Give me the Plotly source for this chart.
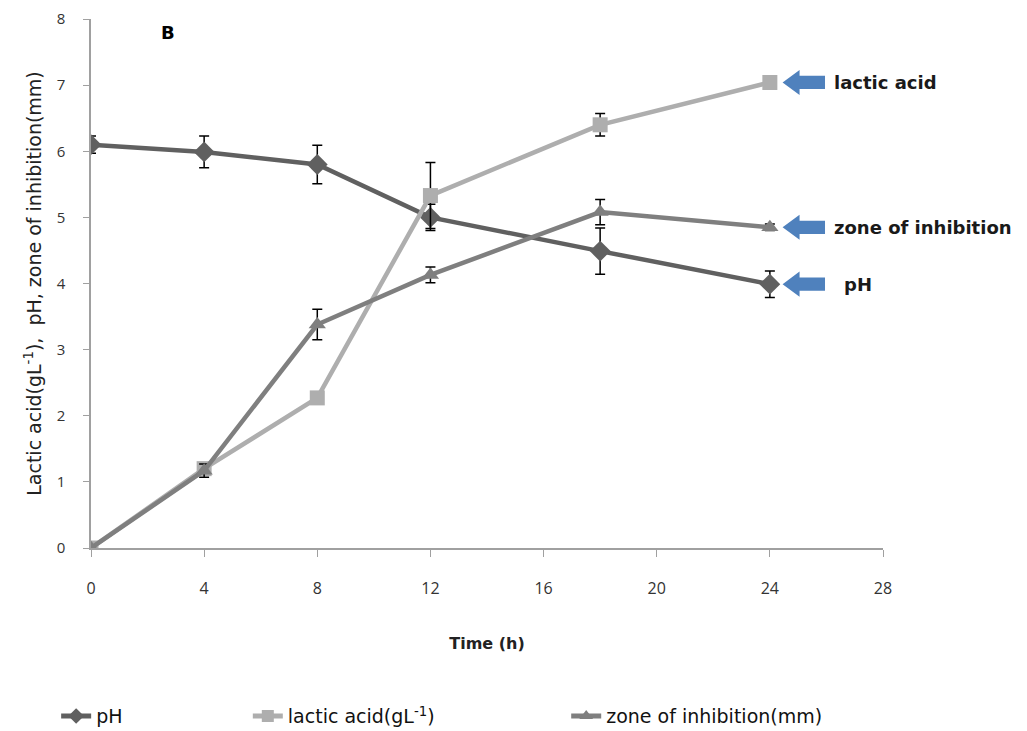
import plotly.graph_objects as go

time_h = [0, 4, 8, 12, 18, 24]
ph = [6.10, 5.99, 5.80, 5.00, 4.49, 3.99]
ph_err = [0.13, 0.24, 0.29, 0.20, 0.35, 0.20]
lactic = [0.0, 1.20, 2.27, 5.33, 6.40, 7.04]
lactic_err = [0.0, 0.05, 0.0, 0.50, 0.17, 0.0]
zone = [0.0, 1.17, 3.38, 4.13, 5.08, 4.85]
zone_err = [0.0, 0.10, 0.23, 0.12, 0.19, 0.05]

labels = ["lactic acid", "zone of inhibition", "pH"]
label_y = [7.04, 4.85, 3.99]

BOLD = "DejaVu Sans"

fig = go.Figure()

def add(name, y, err, color, symbol, size, legend):
    fig.add_trace(go.Scatter(
        x=time_h, y=y, name=name, mode="lines+markers", legend=legend,
        line=dict(color=color, width=4.5),
        marker=dict(symbol=symbol, size=size, color=color),
        error_y=dict(type="data", array=err, color="black", thickness=1.5, width=5),
    ))

add("pH", ph, ph_err, "#606060", "diamond", 16, "legend")
add("lactic acid(gL<sup>-1</sup>)", lactic, lactic_err, "#aeaeae", "square", 15, "legend2")
add("zone of inhibition(mm)", zone, zone_err, "#7f7f7f", "triangle-up", 15, "legend3")

# blue arrows + labels
for lab, yv in zip(labels, label_y):
    tip = 24.45
    neck = 25.05
    end = 25.95
    h1 = 0.10
    h2 = 0.19
    path = (f"M {tip},{yv} L {neck},{yv+h2} L {neck},{yv+h1} L {end},{yv+h1} "
            f"L {end},{yv-h1} L {neck},{yv-h1} L {neck},{yv-h2} Z")
    fig.add_shape(type="path", path=path, xref="x", yref="y",
                  fillcolor="#4f81bd", line=dict(width=0))
    fig.add_annotation(x=26.2 if lab != "pH" else 26.55, y=yv, xref="x", yref="y",
                       text=f"<b>{lab}</b>", showarrow=False, xanchor="left",
                       font=dict(size=18, color="#1a1a1a", family=BOLD))

fig.add_annotation(x=0.097, y=0.975, xref="paper", yref="paper", text="<b>B</b>",
                   showarrow=False, font=dict(size=18, color="black", family=BOLD),
                   xanchor="center", yanchor="middle")

leg_common = dict(orientation="h", yanchor="middle", y=-0.318, xanchor="left",
                  itemsizing="constant",
                  font=dict(size=19, color="#111111", family=BOLD),
                  bgcolor="rgba(0,0,0,0)")

fig.update_layout(
    width=1019, height=723,
    margin=dict(l=83, r=144, t=11, b=183, autoexpand=False),
    plot_bgcolor="white", paper_bgcolor="white",
    font=dict(family="Open Sans", size=15, color="#333333"),
    showlegend=True,
    legend=dict(x=-0.044, **leg_common),
    legend2=dict(x=0.198, **leg_common),
    legend3=dict(x=0.600, **leg_common),
    xaxis=dict(range=[0, 28], tickvals=[0, 4, 8, 12, 16, 20, 24, 28], showgrid=False,
               zeroline=False, showline=True, linecolor="#a0a0a0", linewidth=1.5,
               ticks="outside", ticklen=7, tickcolor="#a0a0a0", automargin=False,
               ticklabelstandoff=18, ticklabeloverflow="allow",
               tickfont=dict(size=16, color="#333333"),
               title=dict(text="<b>Time (h)</b>", font=dict(size=16, color="#222222", family=BOLD),
                          standoff=40)),
    yaxis=dict(range=[0, 8], tickvals=list(range(9)), showgrid=False, zeroline=False,
               showline=True, linecolor="#a0a0a0", linewidth=1.5,
               ticks="outside", ticklen=6, tickcolor="#a0a0a0", automargin=False,
               ticklabelstandoff=15, ticklabeloverflow="allow",
               tickfont=dict(size=15, color="#333333"),
               title=dict(text="Lactic acid(gL<sup>-1</sup>),  pH, zone of inhibition(mm)",
                          font=dict(size=19, color="#222222", family="DejaVu Sans"),
                          standoff=10)),
)

fig.write_html("out.html")
